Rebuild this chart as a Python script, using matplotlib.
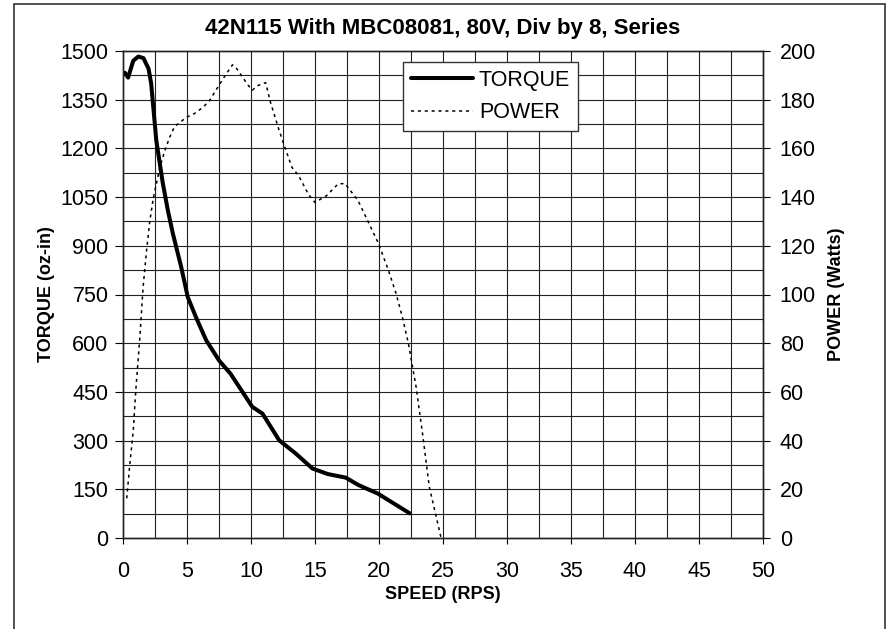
import matplotlib

matplotlib.use("Agg")
import matplotlib.pyplot as plt
from matplotlib.patches import Rectangle

plt.rcParams['font.family'] = ['Liberation Sans', 'DejaVu Sans']

TITLE = "42N115 With MBC08081, 80V, Div by 8, Series"

# speed (RPS) vs torque (oz-in)
torque_speed = [0.15, 0.4, 0.8, 1.2, 1.6, 2.0, 2.2, 2.6, 3.1, 3.5, 3.9, 4.55,
                5.06, 5.7, 6.5, 7.5, 8.4, 9.0, 9.6, 10.1, 10.9, 12.2, 13.5,
                14.8, 16.0, 17.4, 18.4, 19.9, 22.4]
torque = [1433, 1418, 1470, 1483, 1478, 1445, 1400, 1225, 1095, 1010, 937,
          834, 742, 680, 609, 547, 506, 470, 434, 404, 383, 301, 260, 214,
          197, 186, 163, 137, 76]

# speed (RPS) vs power (Watts)
power_speed = [0.29, 0.54, 0.8, 1.0, 1.32, 1.57, 1.84, 2.09, 2.35, 2.87, 3.26,
               3.64, 4.03, 4.94, 5.58, 6.23, 6.74, 7.39, 8.04, 8.55, 8.8,
               9.72, 10.1, 10.49, 11.14, 11.53, 12.17, 12.56, 13.2, 13.72,
               14.5, 15.0, 15.9, 16.8, 17.34, 18.37, 19.92, 20.7, 21.34,
               21.86, 22.3, 22.9, 23.4, 23.93, 24.83]
power = [16.3, 30.6, 44, 60.7, 82.5, 103, 118, 130, 139, 152, 159, 164.5,
         169, 172.7, 174.3, 176.8, 179.5, 185, 190.4, 194.3, 193.4, 186.3,
         183.9, 185.7, 187, 178.8, 167.9, 161.8, 152.2, 148.8, 141, 137.8,
         140.6, 145.4, 145.6, 138.5, 121.4, 110.5, 100.3, 90, 79.8, 62,
         42.9, 21, 0.5]

fig = plt.figure(figsize=(8.9, 6.29), dpi=100)
ax = fig.add_axes([123 / 890, 91 / 629, 640 / 890, 487 / 629])
ax2 = ax.twinx()

l1, = ax.plot(torque_speed, torque, color="black", lw=2.9,
              solid_capstyle="round", label="TORQUE", zorder=3)
l2, = ax2.plot(power_speed, power, color="black", lw=1.1,
               dashes=(2, 2.5), label="POWER", zorder=3)

ax.set_xlim(0, 50)
ax.set_ylim(0, 1500)
ax2.set_ylim(0, 200)
ax.set_xticks(range(0, 51, 5))
ax.set_yticks(range(0, 1501, 150))
ax2.set_yticks(range(0, 201, 20))

# grid every 2.5 RPS and 75 oz-in
for x in [i * 2.5 for i in range(1, 20)]:
    ax.axvline(x, color="#222222", lw=0.8, zorder=1)
for y in range(75, 1500, 75):
    ax.axhline(y, color="#222222", lw=0.8, zorder=1)

for a in (ax, ax2):
    for s in a.spines.values():
        s.set_linewidth(1.0)
        s.set_color("#222222")
ax.tick_params(axis="x", labelsize=15.5, length=4.5, width=0.8,
               direction="out", pad=12)
ax.tick_params(axis="y", labelsize=15.5, length=5.5, width=0.8,
               direction="out", pad=5)
ax2.tick_params(axis="y", labelsize=15.5, length=5, width=0.8,
                direction="out", pad=7)

ax.set_xlabel("SPEED (RPS)", fontsize=13, fontweight="bold", labelpad=3)
ax.set_ylabel("TORQUE (oz-in)", fontsize=13, fontweight="bold", labelpad=4)
ax2.set_ylabel("POWER (Watts)", fontsize=13, fontweight="bold", labelpad=9)
ax.set_title(TITLE, fontsize=16, fontweight="bold", pad=12)

leg = ax.legend(handles=[l1, l2], loc="upper left",
                bbox_to_anchor=(280 / 640, 1 - 11 / 487), fontsize=15.5,
                frameon=True, fancybox=False, framealpha=1, borderpad=0.35,
                handlelength=2.9, handletextpad=0.28, labelspacing=0.55,
                borderaxespad=0)
leg.get_frame().set_edgecolor("#333333")
leg.get_frame().set_linewidth(1.0)
leg.set_zorder(5)

fig.patches.append(Rectangle((14 / 890, -0.02), 871 / 890, 1.02 - 4 / 629,
                             transform=fig.transFigure, fill=False,
                             edgecolor="#333333", lw=1.2))

fig.savefig("out.png", dpi=100)
